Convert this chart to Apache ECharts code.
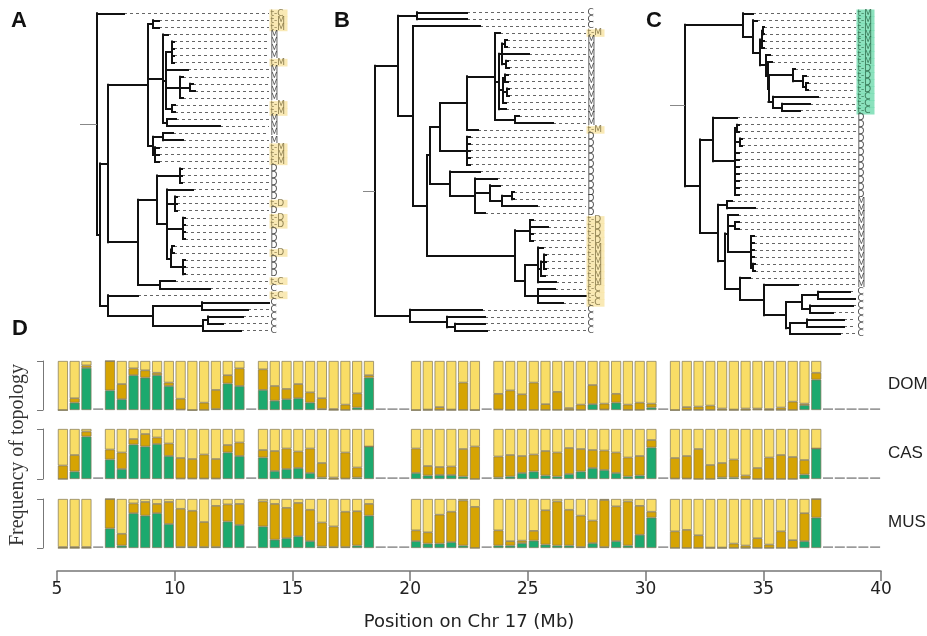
<!DOCTYPE html>
<html><head><meta charset="utf-8">
<script src="https://cdn.jsdelivr.net/npm/echarts@6/dist/echarts.min.js"></script>
<style>html,body{margin:0;padding:0;background:#fff}#c{width:927px;height:636px}</style>
</head><body><div id="c"></div>
<script>
// ---------- Trees (Newick, branch lengths) ----------
const treeA = "(t-C:27,((((t-M:6,t-M:6):5,(M:5,((M:2,M:2,M:2,t-M:2):6,M:22,(M:3,(M:3,M:5):10,M:3):14,(t-M:3,t-M:3):6):3,(M:9,M:53):4):15,((M:10,M:20):10,(t-M:4,t-M:4,t-M:4):2):5):40,(((D:2,D:2,D:2):23,(D:26,(D:2,t-D:2,D:2):8,(t-D:2,t-D:2,D:2,D:2):16,((D:2,t-D:2):1,(D:2,D:2,D:2):12):4):10):19,(t-C:15,C:50):22):30):8,(t-C:30,((C:67,C:46):49,((C:35,C:15):5,C:38):50):45):8):3);";
const treeB = "(((C:50,C:50):19,(C:67,(((((t-M:5,(((M:2,M:2):3,M:27,(M:2,M:3):4):3,((M:3,M:3):2,(M:2,M:2):4,M:3):4,M:7):4,(M:4,M:38):20):28,t-M:11):27,(D:3,D:3,D:3,D:3,D:3):27):10,(D:30,(D:22,(D:10,((D:2,D:2):10,D:35):12):15,D:10):25):20):3,((t-D:3,t-D:18,t-D:3,t-D:3):15,((t-M:5,((t-M:2,t-M:2,t-M:2):3,t-M:4):3,t-M:18):13,(t-C:17,t-C:48,t-C:25):13):10):88):14):15):23,(C:72,(C:38,(C:30,C:32):8):37):35);";
const treeC = "((t-M:10,(t-M:4,(((t-M:1,t-M:1):1,t-M:2,t-M:2):2,(t-M:4,(t-M:4,((t-D:2,(t-D:3,(t-D:2,t-D:2):3):10):24.5,(t-C:45,(t-C:28,t-C:18):9):4.5):0.5):2):6):7):10):58,((D:24,((D:2,D:2):2,(D:2,D:2):5,D:4,D:4,D:4,D:4,D:4,D:4,D:4):22):13,((M:5,M:28):9,((M:10,(M:4,M:4):7,(M:3,M:3,M:3,M:3,(M:2,M:2):2):23):3,(M:10,(M:34,(((C:32,C:37):16,(C:43,C:23):8):16,((C:37,C:37):17,C:50):4):22):24):15):7):18):15);";

// ---------- Panel D data ----------
const _ = null;
const positionTicks = [5, 10, 15, 20, 25, 30, 35, 40];
const windows = Array.from({length: 70}, (v, i) => (5 + i * 0.5).toFixed(1));
const rows = ['DOM', 'CAS', 'MUS'];
const domGreen = [0,.15,.86, _, .40,.22,.71,.66,.71,.49,.01,0,0,.02,.54,.49, _, .41,.19,.22,.24,.15,.02,0,0,.05,.66, _,_,_, 0,0,0,0,0,0, _, .01,0,0,0,0,0,0,0,.12,.01,.15,0,0,.05, _, 0,0,0,0,0,0,0,.01,0,0,0,.10,.62, _,_,_,_,_];
const domDark  = [0,.09,.05, _, .60,.31,.14,.15,.05,.07,.22,0,.15,.39,.17,.36, _, .42,.30,.21,.29,.21,.22,.02,.11,.29,.05, _,_,_, 0,.01,.06,.01,.56,0, _, .32,.40,.32,.56,.12,.37,.04,.11,.39,.12,.18,.11,.15,.08, _, 0,.06,.07,.09,.03,.01,.03,.02,.02,.05,.17,.03,.14, _,_,_,_,_];
const domLight = [1,.76,.09, _, 0,.47,.15,.19,.24,.44,.77,1,.85,.59,.29,.15, _, .17,.51,.57,.47,.64,.76,.98,.89,.66,.29, _,_,_, 1,.99,.94,.99,.44,1, _, .67,.60,.68,.44,.88,.63,.96,.89,.49,.87,.67,.89,.85,.87, _, 1,.94,.93,.91,.97,.99,.97,.97,.98,.95,.83,.87,.24, _,_,_,_,_];
const casGreen = [0,.15,.85, _, .39,.20,.69,.65,.70,.46,.01,.01,.01,.01,.53,.46, _, .43,.16,.20,.22,.12,.03,0,.01,.03,.65, _,_,_, .12,.07,.08,.08,.05,0, _, .03,.05,.12,.15,.07,.05,.10,.15,.22,.18,.12,.05,.07,.63, _, .01,.01,0,0,.03,.03,.01,0,0,0,0,.09,.61, _,_,_,_,_];
const casDark  = [.27,.33,.10, _, .20,.33,.11,.25,.13,.25,.41,.39,.48,.39,.15,.27, _, .15,.40,.41,.33,.49,.29,.03,.52,.20,0, _,_,_, .49,.19,.16,.17,.55,.65, _, .42,.43,.34,.34,.49,.48,.52,.45,.36,.39,.41,.38,.39,.15, _, .41,.45,.60,.28,.29,.36,.06,.22,.43,.48,.44,.29,0, _,_,_,_,_];
const casLight = [.73,.52,.05, _, .41,.47,.20,.10,.17,.29,.58,.60,.51,.60,.32,.27, _, .42,.44,.39,.45,.39,.68,.97,.47,.77,.35, _,_,_, .39,.74,.76,.75,.40,.35, _, .55,.52,.54,.51,.44,.47,.38,.40,.42,.43,.47,.57,.54,.22, _, .58,.54,.40,.72,.68,.61,.93,.78,.57,.52,.56,.62,.39, _,_,_,_,_];
const musGreen = [0,0,0, _, .40,.05,.71,.66,.71,.49,.02,.02,.02,.02,.54,.47, _, .44,.17,.20,.24,.14,.03,.02,.02,.05,.66, _,_,_, .14,.09,.09,.12,.05,0, _, .05,.05,.10,.15,.07,.05,.05,.02,.10,.02,.14,.05,.27,.62, _, 0,0,0,0,0,0,0,0,0,0,0,.14,.62, _,_,_,_,_];
const musDark  = [.02,.02,.02, _, .60,.24,.20,.28,.19,.45,.78,.74,.51,.84,.35,.43, _, .51,.73,.62,.68,.64,.49,.42,.72,.70,.24, _,_,_, .22,.23,.59,.62,.92,.84, _, .31,.09,.05,.20,.70,.90,.73,.64,.46,.96,.71,.90,.59,.12, _, .34,.37,.26,.01,.01,.09,.05,.20,.07,.34,.16,.57,.38, _,_,_,_,_];
const musLight = [.98,.98,.98, _, 0,.71,.09,.06,.10,.06,.20,.24,.47,.14,.11,.10, _, .05,.10,.18,.08,.22,.48,.56,.26,.25,.10, _,_,_, .64,.68,.32,.26,.03,.16, _, .64,.86,.85,.65,.23,.05,.22,.34,.44,.02,.15,.05,.14,.26, _, .66,.63,.74,.99,.99,.91,.95,.80,.93,.66,.84,.29,0, _,_,_,_,_];

// ---------- helpers ----------
function parseNewick(s) {
  s = s.replace(/\s+/g, '');
  let i = 0;
  function node() {
    const n = {children: [], name: '', len: 0};
    if (s[i] === '(') {
      i++;
      while (true) {
        n.children.push(node());
        if (s[i] === ',') { i++; continue; }
        if (s[i] === ')') { i++; break; }
        throw new Error('bad newick at ' + i);
      }
    }
    let st = i;
    while (i < s.length && !',():;'.includes(s[i])) i++;
    n.name = s.slice(st, i);
    if (s[i] === ':') {
      i++; st = i;
      while (i < s.length && !',();'.includes(s[i])) i++;
      n.len = parseFloat(s.slice(st, i));
    }
    return n;
  }
  return node();
}
function layoutTree(root) {
  const branches = [], leaves = [];
  let k = 0;
  (function walk(n, x) {
    n.x = x;
    if (!n.children.length) { n.y = k++; leaves.push(n); return; }
    n.children.forEach(c => walk(c, x + c.len));
    n.y = (n.children[0].y + n.children[n.children.length - 1].y) / 2;
  })(root, 0);
  (function seg(n) {
    if (!n.children.length) return;
    const c0 = n.children[0], c1 = n.children[n.children.length - 1];
    branches.push({coords: [[n.x, c0.y], [n.x, c1.y]]});
    n.children.forEach(c => { branches.push({coords: [[n.x, c.y], [c.x, c.y]]}); seg(c); });
  })(root);
  return {root, branches, leaves};
}

const treeLayouts = [
  {src: treeA, rootX: 97, stem: 17, labelX: 269, firstY: 13.3, step: 7.05, hl: '#F7E4A3', hlText: '#756838'},
  {src: treeB, rootX: 375, stem: 12, labelX: 586, firstY: 12.3, step: 6.92, hl: '#F7E4A3', hlText: '#756838'},
  {src: treeC, rootX: 685, stem: 15, labelX: 856, firstY: 13.3, step: 6.96, hl: '#6FDBAE', hlText: '#24603f'}
];

const grid = [], xAxis = [], yAxis = [], series = [];
treeLayouts.forEach((t, ti) => {
  const L = layoutTree(parseNewick(t.src));
  const n = L.leaves.length;
  const maxX = t.labelX - t.rootX;
  grid.push({left: t.rootX - t.stem, top: t.firstY, width: maxX + t.stem, height: t.step * (n - 1)});
  xAxis.push({type: 'value', gridIndex: ti, min: -t.stem, max: maxX, show: false});
  yAxis.push({type: 'value', gridIndex: ti, min: 0, max: n - 1, inverse: true, show: false});
  const common = {coordinateSystem: 'cartesian2d', xAxisIndex: ti, yAxisIndex: ti, silent: true, animation: false, clip: false, polyline: false};
  series.push(Object.assign({type: 'lines', data: L.leaves.map(l => ({coords: [[l.x, l.y], [maxX, l.y]]})),
    lineStyle: {color: '#666', width: 1, type: [3, 3], opacity: 1}, z: 2}, common));
  series.push(Object.assign({type: 'lines', data: L.branches,
    lineStyle: {color: '#111', width: 2, cap: 'square', opacity: 1}, z: 3}, common));
  series.push(Object.assign({type: 'lines', data: [{coords: [[-t.stem, L.root.y], [0, L.root.y]]}],
    lineStyle: {color: '#888', width: 1, opacity: 1}, z: 3}, common));
  series.push({
    type: 'scatter', xAxisIndex: ti, yAxisIndex: ti, silent: true, animation: false, clip: false,
    symbolSize: 1, itemStyle: {color: 'rgba(0,0,0,0)'}, z: 4,
    data: L.leaves.map(l => {
      const h = l.name.startsWith('t-');
      return {value: [maxX, l.y], name: l.name,
        label: h ? {backgroundColor: t.hl, color: t.hlText, width: 16, height: t.step + 0.6, lineHeight: t.step + 0.6, padding: [0, 1, 0, 1]}
                 : {color: '#222', padding: [0, 0, 0, 1]}};
    }),
    label: {show: true, position: 'right', distance: 0, formatter: p => p.name,
      fontSize: 9, fontFamily: 'DejaVu Sans', color: '#222'}
  });
});

// ---------- Panel D grids ----------
const rowData = [[domGreen, domDark, domLight], [casGreen, casDark, casLight], [musGreen, musDark, musLight]];
const rowTops = [361, 429, 499];
const rowHeights = [49, 50, 49];
const segColors = ['#1CA96E', '#D6A403', '#F9DD66'];
const segNames = ['green', 'dark', 'light'];
rowData.forEach((rd, r) => {
  const gi = 3 + r;
  grid.push({left: 57, width: 824, top: rowTops[r], height: rowHeights[r]});
  xAxis.push({type: 'category', gridIndex: gi, data: windows, show: false, boundaryGap: true});
  yAxis.push({type: 'value', gridIndex: gi, min: 0, max: 1, interval: 1, offset: 14,
    axisLine: {show: true, lineStyle: {color: '#777', width: 1}},
    axisTick: {show: true, length: 6, lineStyle: {color: '#777', width: 1}},
    axisLabel: {show: false}, splitLine: {show: false}});
  rd.forEach((arr, s) => {
    series.push({type: 'bar', name: rows[r] + '-' + segNames[s], xAxisIndex: gi, yAxisIndex: gi, stack: rows[r],
      barWidth: 10, data: arr, animation: false, silent: true,
      itemStyle: {color: segColors[s], borderColor: '#7f7658', borderWidth: 0.7}});
  });
  series.push({type: 'bar', name: rows[r] + '-none', xAxisIndex: gi, yAxisIndex: gi, stack: rows[r],
    barWidth: 10, data: rd[0].map(v => v === null ? 0.035 : null), animation: false, silent: true,
    itemStyle: {color: '#9a9a9a'}});
});
grid.push({left: 57, width: 824, top: 560, height: 11});
xAxis.push({type: 'value', gridIndex: 6, min: positionTicks[0], max: positionTicks[positionTicks.length - 1], interval: 5,
  position: 'bottom',
  axisLine: {show: true, lineStyle: {color: '#777', width: 1.5}},
  axisTick: {show: true, length: 10, lineStyle: {color: '#777', width: 1.5}},
  axisLabel: {show: true, fontSize: 17, fontFamily: 'DejaVu Sans', color: '#222', margin: 10},
  splitLine: {show: false},
  name: 'Position on Chr 17 (Mb)', nameLocation: 'middle', nameGap: 42,
  nameTextStyle: {fontSize: 18, fontFamily: 'DejaVu Sans', color: '#222'}});
yAxis.push({type: 'value', gridIndex: 6, show: false});

const letterFont = 'bold 22px "Liberation Sans", Arial, sans-serif';
const graphic = [
  {type: 'text', x: 11, y: 21, style: {text: 'A', font: letterFont, fill: '#111', textAlign: 'left', textVerticalAlign: 'middle'}},
  {type: 'text', x: 334, y: 21, style: {text: 'B', font: letterFont, fill: '#111', textAlign: 'left', textVerticalAlign: 'middle'}},
  {type: 'text', x: 646, y: 21, style: {text: 'C', font: letterFont, fill: '#111', textAlign: 'left', textVerticalAlign: 'middle'}},
  {type: 'text', x: 12, y: 329, style: {text: 'D', font: letterFont, fill: '#111', textAlign: 'left', textVerticalAlign: 'middle'}},
  {type: 'text', x: 18, y: 455, rotation: Math.PI / 2,
    style: {text: 'Frequency of topology', font: '20px "Liberation Serif", "Times New Roman", serif', fill: '#333', textAlign: 'center', textVerticalAlign: 'middle'}}
];
rows.forEach((name, r) => {
  graphic.push({type: 'text', x: 888, y: rowTops[r] + rowHeights[r] / 2 - 1,
    style: {text: name, font: '17px "Liberation Sans", Arial, sans-serif', fill: '#222', textAlign: 'left', textVerticalAlign: 'middle'}});
});

const chart = echarts.init(document.getElementById('c'), null, {renderer: 'canvas'});
chart.setOption({animation: false, backgroundColor: '#fff', grid, xAxis, yAxis, series, graphic});
</script>
</body></html>
